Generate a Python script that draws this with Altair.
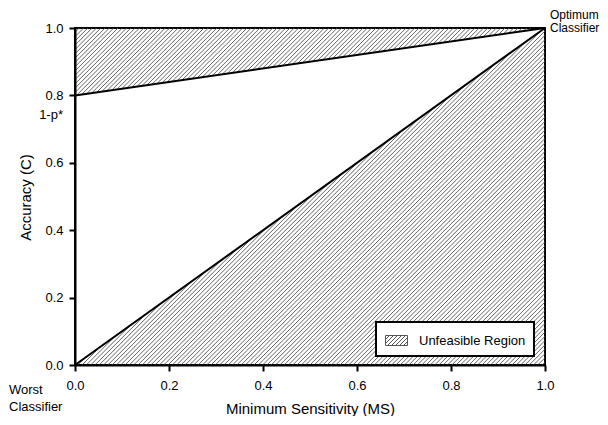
import altair as alt
import pandas as pd

# ---- data ----
ms = [0.0, 1.0]                 # Minimum Sensitivity
acc_upper = [0.8, 1.0]          # C = 1 - p* (1 - MS) boundary
acc_lower = [0.0, 1.0]          # C = MS boundary
x_ticks = [0.0, 0.2, 0.4, 0.6, 0.8, 1.0]
y_ticks = [0.0, 0.2, 0.4, 0.6, 0.8, 1.0]
ann_text = ["1-p*", "Worst\nClassifier", "Optimum\nClassifier"]
ann_x = [0.0, 0.0, 1.0]
ann_y = [0.8, 0.0, 1.0]
legend_label = "Unfeasible Region"

W, H = 470, 337
FONT = "Liberation Sans"
HATCH = "#555555"

bounds = pd.DataFrame({"ms": ms, "upper": acc_upper, "lower": acc_lower})
ann = pd.DataFrame({"t": ann_text, "x": ann_x, "y": ann_y})

xs = alt.Scale(domain=[0, 1], nice=False, zero=False)
ys = alt.Scale(domain=[0, 1], nice=False, zero=False)

x_axis = alt.Axis(values=x_ticks, format=".1f", title="Minimum Sensitivity (MS)",
                  grid=False, labelFlush=False, labelOverlap=False,
                  domainColor="black", domainWidth=2, tickColor="black", tickWidth=2,
                  tickSize=6, labelPadding=8, labelFontSize=13, labelFont=FONT,
                  labelColor="black", titleFont=FONT, titleFontSize=15,
                  titleFontWeight="normal", titleColor="black",
                  titleX=235, titleY=48, titleBaseline="alphabetic", zindex=2)
y_axis = alt.Axis(values=y_ticks, format=".1f", title="Accuracy (C)",
                  grid=False, labelFlush=False, labelOverlap=False,
                  domainColor="black", domainWidth=2, tickColor="black", tickWidth=2,
                  tickSize=6, labelPadding=6, labelFontSize=13, labelFont=FONT,
                  labelColor="black", titleFont=FONT, titleFontSize=15,
                  titleFontWeight="normal", titleColor="black",
                  titleX=-45, titleY=169, titleAngle=-90, titleAlign="center",
                  titleBaseline="alphabetic", zindex=2)

# legend swatch: rectangle with diagonal hatching (custom symbol path)
segs = [(-0.7, -0.5, -1.1, -0.1), (-0.3, -0.5, -1.1, 0.3), (0.1, -0.5, -0.9, 0.5),
        (0.5, -0.5, -0.5, 0.5), (0.9, -0.5, -0.1, 0.5), (1.1, -0.3, 0.3, 0.5),
        (1.1, 0.1, 0.7, 0.5)]
sym = "M-1.1,-0.5H1.1V0.5H-1.1Z" + "".join(f"M{a},{b}L{c},{d}" for a, b, c, d in segs)

hatch = alt.Chart(alt.sequence(-H, W + 5, 4.3, as_="c")).transform_calculate(
    hx1=f"datum.c/{W}", hx2=f"(datum.c+{H})/{W}", hy1="0", hy2="1",
    region=f"'{legend_label}'"
).mark_rule(clip=True, strokeWidth=0.9).encode(
    x=alt.X("hx1:Q", scale=xs, axis=x_axis),
    x2="hx2:Q",
    y=alt.Y("hy1:Q", scale=ys, axis=y_axis),
    y2="hy2:Q",
    color=alt.Color("region:N", scale=alt.Scale(range=[HATCH]),
                    legend=alt.Legend(title=None, orient="none", legendX=301, legendY=294,
                                      symbolType=sym, symbolSize=400, symbolStrokeWidth=1,
                                      symbolFillColor="white", labelFontSize=13,
                                      labelFont=FONT, labelColor="black", labelOffset=12,
                                      padding=8, strokeColor="black",
                                      fillColor="white", symbolOffset=2)),
)

feasible = alt.Chart(bounds).mark_area(color="white", opacity=1).encode(
    x=alt.X("ms:Q", scale=xs), y=alt.Y("lower:Q", scale=ys), y2="upper:Q")

line_up = alt.Chart(bounds).mark_line(color="black", strokeWidth=2).encode(
    x=alt.X("ms:Q", scale=xs), y=alt.Y("upper:Q", scale=ys))
line_lo = alt.Chart(bounds).mark_line(color="black", strokeWidth=2).encode(
    x=alt.X("ms:Q", scale=xs), y=alt.Y("lower:Q", scale=ys))

base_ann = alt.Chart(ann)
t1 = base_ann.transform_filter(alt.datum.t == ann_text[0]).mark_text(
    align="right", dx=-12, dy=24, baseline="alphabetic", fontSize=13, font=FONT,
    color="black").encode(x=alt.X("x:Q", scale=xs), y=alt.Y("y:Q", scale=ys), text="t:N")
t2 = base_ann.transform_filter(alt.datum.t == ann_text[1]).mark_text(
    align="left", dx=-66, dy=29, baseline="alphabetic", fontSize=13, font=FONT,
    lineBreak="\n", lineHeight=17, color="black").encode(
    x=alt.X("x:Q", scale=xs), y=alt.Y("y:Q", scale=ys), text="t:N")
t3 = base_ann.transform_filter(alt.datum.t == ann_text[2]).mark_text(
    align="left", dx=5, dy=-9, baseline="alphabetic", fontSize=12, font=FONT,
    lineBreak="\n", lineHeight=13, color="black").encode(
    x=alt.X("x:Q", scale=xs), y=alt.Y("y:Q", scale=ys), text="t:N")

chart = alt.layer(hatch, feasible, line_up, line_lo, t1, t2, t3).properties(
    width=W, height=H,
    autosize=alt.AutoSizeParams(type="none"),
    padding={"left": 67, "top": 20, "right": 55, "bottom": 51},
    background="white",
).configure_view(stroke="black", strokeWidth=2).configure_legend(strokeWidth=2)

chart.save("out.html", embed_options={"renderer": "svg", "actions": False})
